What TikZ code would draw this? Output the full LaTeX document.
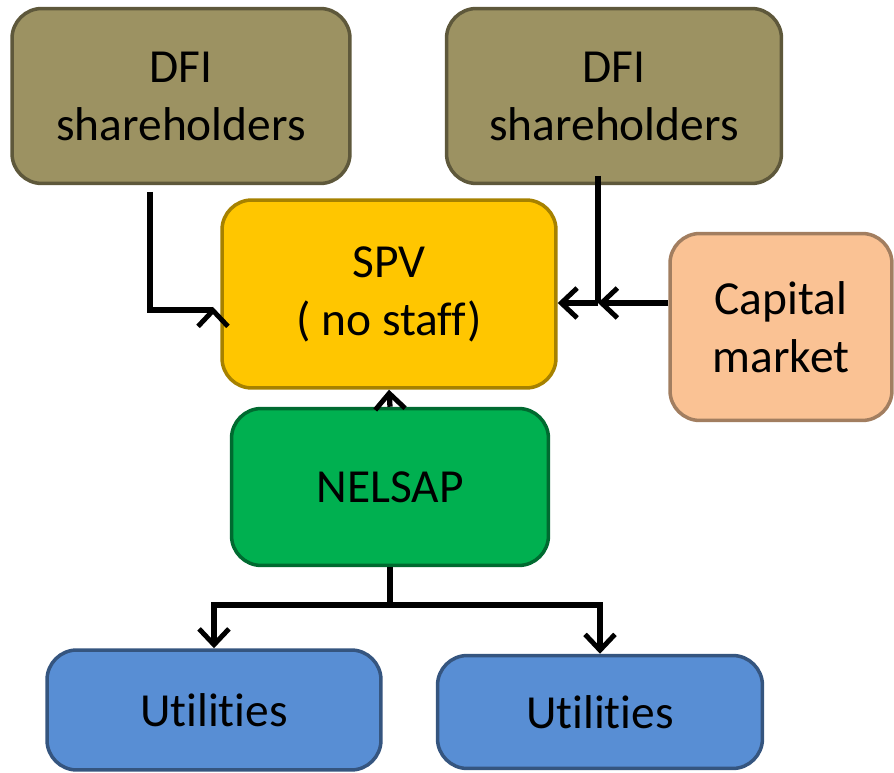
\documentclass[tikz,border=0pt]{standalone}
\usepackage{fontspec}
\setmainfont[Ligatures=NoCommon]{Carlito}
\usetikzlibrary{arrows.meta}

\definecolor{olivebox}{RGB}{156,146,98}
\definecolor{spvyellow}{RGB}{255,198,0}
\definecolor{peachbox}{RGB}{250,194,148}
\definecolor{nelgreen}{RGB}{0,176,80}
\definecolor{utilblue}{RGB}{88,142,212}

\tikzset{
  box/.style={rounded corners=17pt, line width=2pt, align=center,
    font=\fontsize{27}{33}\selectfont, inner sep=0pt},
  link/.style={line width=3pt, line join=miter},
}

\begin{document}
\begin{tikzpicture}[x=0.02cm, y=-0.02cm, >={Straight Barb[length=9pt, width=17pt, line width=2.8pt]}]
  \useasboundingbox (0,0) rectangle (894,773);
  % boxes
  \node (dfiA) at (181,96) [box, fill=olivebox, draw=olivebox!60!black, minimum width=6.76cm, minimum height=3.5cm] {DFI\\shareholders};
  \node (dfiB) at (614,96) [box, fill=olivebox, draw=olivebox!60!black, minimum width=6.7cm, minimum height=3.5cm] {DFI\\shareholders};
  \node (spv) at (389,294) [box, fill=spvyellow, draw=spvyellow!65!black, minimum width=6.68cm, minimum height=3.76cm] {SPV\\( no staff)};
  \node (cap) at (781,327) [box, fill=peachbox, draw=peachbox!65!black, minimum width=4.44cm, minimum height=3.74cm] {Capital\\market};
  \node (nel) at (390,487) [box, fill=nelgreen, draw=nelgreen!60!black, minimum width=6.34cm, minimum height=3.14cm] {NELSAP};
  \node (utA) at (214,710) [box, fill=utilblue, draw=utilblue!60!black, minimum width=6.68cm, minimum height=2.4cm] {Utilities};
  \node (utB) at (600,712) [box, fill=utilblue, draw=utilblue!60!black, minimum width=6.5cm, minimum height=2.26cm] {Utilities};
  % connectors
  \coordinate (jl) at (213,310);
  \coordinate (jr) at (598,303);
  \coordinate (jn) at (390,605);
  \draw [link] (150,192) |- (jl);
  \draw [link, ->] (jl) -- ++(0,-3);
  \draw [link] (598,176) -- (jr);
  \draw [link, ->] (cap.west |- jr) -- (jr);
  \draw [link, ->] (jr) -- (spv.east |- jr);
  \draw [link, ->] (nel.north) -- (spv.south);
  \draw [link] (nel.south) -- (jn);
  \draw [link, ->] (jn) -| (utA.north);
  \draw [link, ->] (jn) -| (utB.north);
\end{tikzpicture}
\end{document}
